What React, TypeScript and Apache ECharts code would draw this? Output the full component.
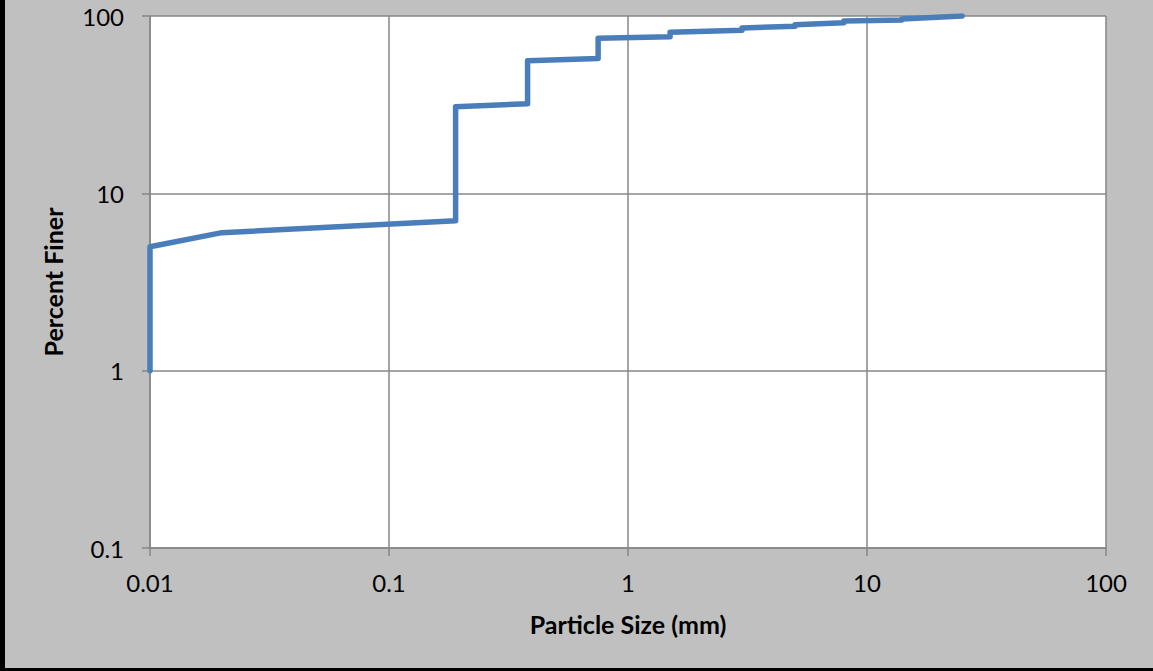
import React, { useEffect, useRef } from "react";
import * as echarts from "echarts";

// Particle size (mm) and percent finer
const sizeMm = [0.01, 0.01, 0.02, 0.19, 0.19, 0.38, 0.38, 0.75, 0.75, 1.5, 1.5, 3, 3, 5, 5, 8, 8, 14, 14, 25];
const percentFiner = [1, 5, 6, 7, 30.8, 32, 56, 57.5, 75, 76.5, 81, 83, 85.6, 87.4, 89.4, 91.7, 93.8, 94.8, 96.2, 100];

const xTickLabels = ["0.01", "0.1", "1", "10", "100"]; // decades 10^-2 .. 10^2
const yTickLabels = ["0.1", "1", "10", "100"]; // decades 10^-1 .. 10^2

const xTitle = "Particle Size (mm)";
const yTitle = "Percent Finer";

export default function App() {
  const ref = useRef<HTMLDivElement>(null);
  useEffect(() => {
    if (!ref.current) return;
    const chart = echarts.init(ref.current, null, { renderer: "svg" });
    const font = "Lato, 'Open Sans', sans-serif";
    const gridColor = "#878787";
    chart.setOption({
      animation: false,
      backgroundColor: "#c0c0c0",
      textStyle: { fontFamily: font },
      grid: { left: 150, right: 47, top: 16, bottom: 123, show: true, backgroundColor: "#ffffff", borderWidth: 0 },
      graphic: [
        { type: "rect", shape: { x: 0, y: 0, width: 5, height: 671 }, style: { fill: "#000" }, z: 100 },
        { type: "rect", shape: { x: 0, y: 668, width: 1153, height: 3 }, style: { fill: "#000" }, z: 100 },
      ],
      xAxis: {
        type: "log",
        logBase: 10,
        min: 0.01,
        max: 100,
        name: xTitle,
        nameLocation: "middle",
        nameGap: 63,
        nameTextStyle: { fontFamily: font, fontWeight: "bold", fontSize: 25, color: "#000" },
        axisLine: { show: true, lineStyle: { color: gridColor, width: 1.5 } },
        axisTick: { show: true, length: 8, inside: false, lineStyle: { color: gridColor, width: 1.5 } },
        minorTick: { show: false },
        splitLine: { show: true, lineStyle: { color: gridColor, width: 1.5 } },
        axisLabel: {
          margin: 22,
          fontSize: 24,
          color: "#000",
          fontFamily: font,
          formatter: (v: number) => xTickLabels[Math.round(Math.log10(v)) + 2] ?? "",
        },
      },
      yAxis: {
        type: "log",
        logBase: 10,
        min: 0.1,
        max: 100,
        name: yTitle,
        nameLocation: "middle",
        nameGap: 85,
        nameRotate: 90,
        nameTextStyle: { fontFamily: font, fontWeight: "bold", fontSize: 25, color: "#000" },
        axisLine: { show: true, lineStyle: { color: gridColor, width: 1.5 } },
        axisTick: { show: true, length: 8, inside: false, lineStyle: { color: gridColor, width: 1.5 } },
        splitLine: { show: true, lineStyle: { color: gridColor, width: 1.5 } },
        axisLabel: {
          margin: 26,
          fontSize: 24,
          color: "#000",
          fontFamily: font,
          formatter: (v: number) => yTickLabels[Math.round(Math.log10(v)) + 1] ?? "",
        },
      },
      series: [
        {
          type: "line",
          data: sizeMm.map((s, i) => [s, percentFiner[i]]),
          showSymbol: false,
          symbol: "none",
          lineStyle: { color: "#4a7ebb", width: 5.5, join: "round", cap: "round" },
          clip: true,
        },
      ],
    });
    return () => chart.dispose();
  }, []);
  return (
    <div
      ref={ref}
      style={{ position: "fixed", left: 0, top: 0, width: 1153, height: 671 }}
    />
  );
}
